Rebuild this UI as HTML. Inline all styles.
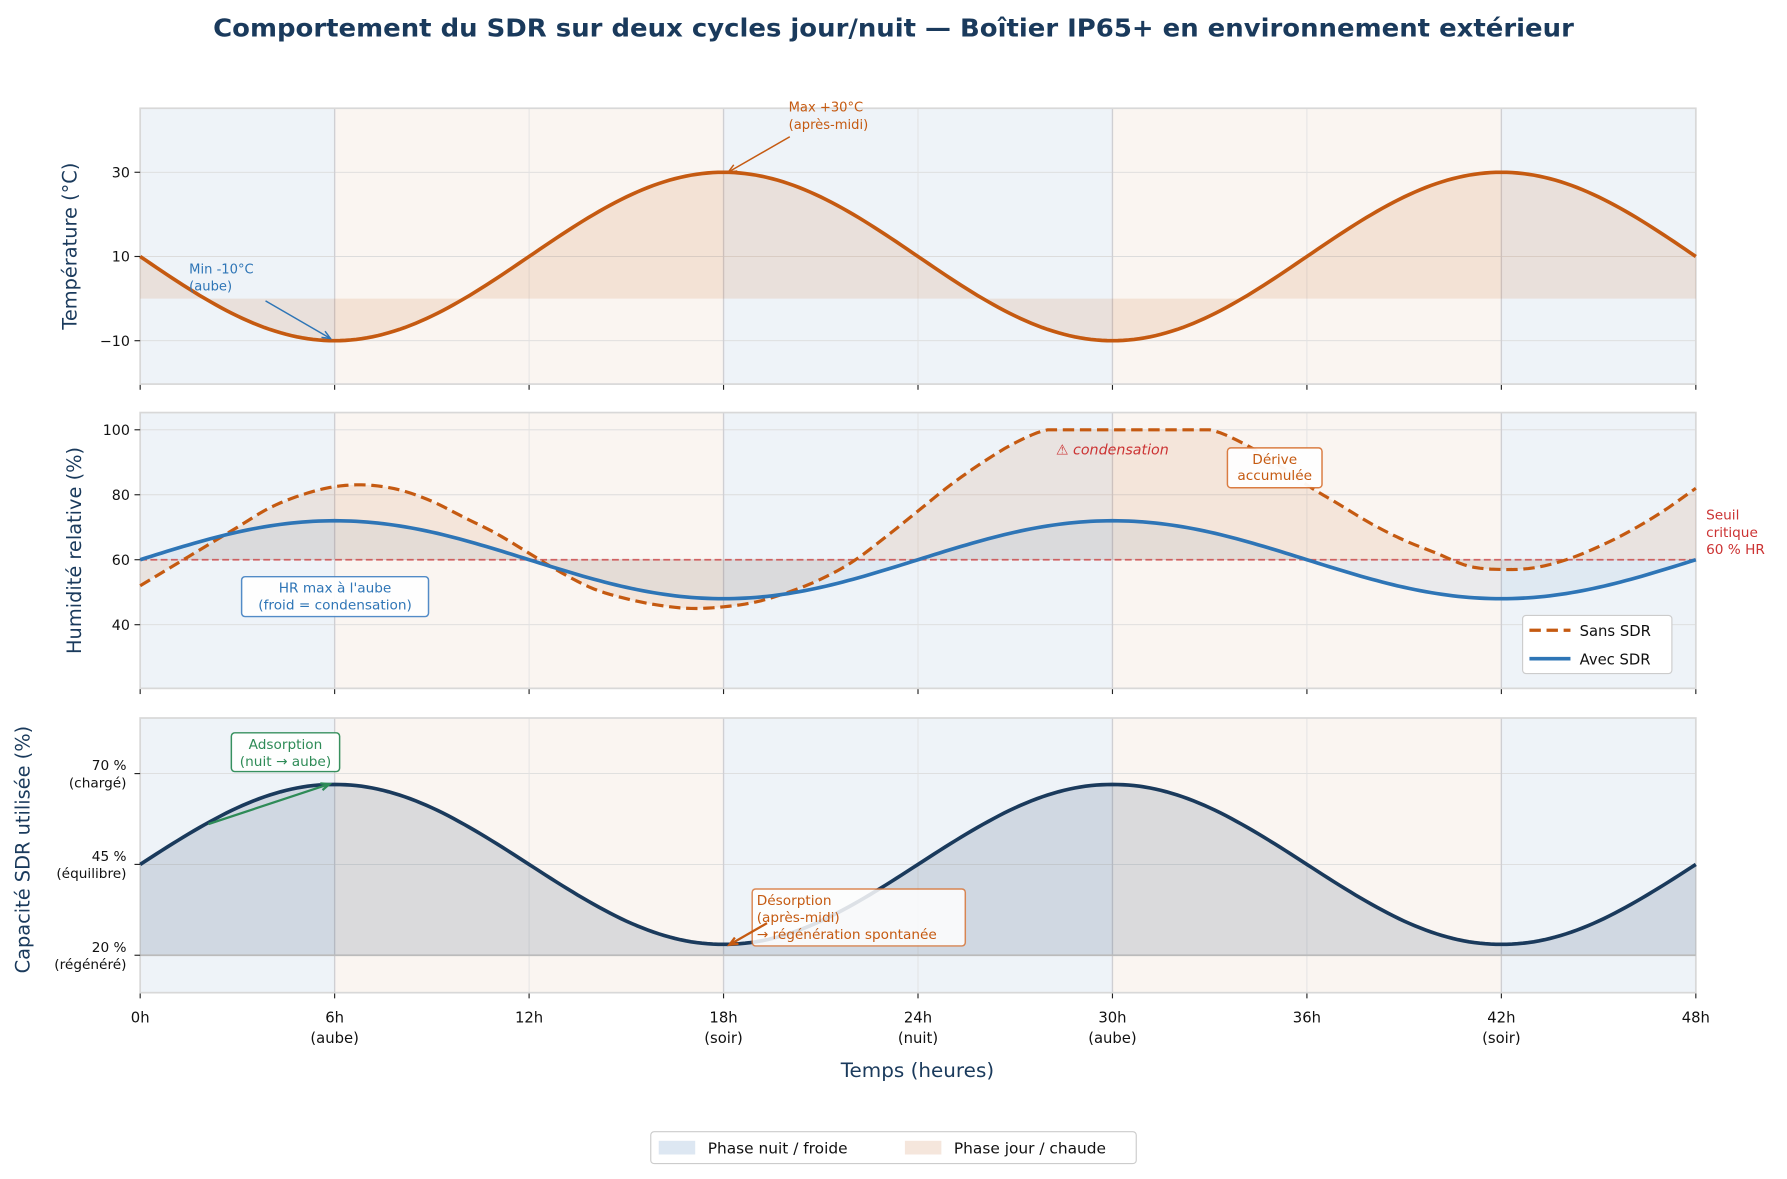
<!DOCTYPE html>
<html><head><meta charset="utf-8">
<style>
html,body{margin:0;padding:0;background:#fff;}
svg{display:block;font-family:"DejaVu Sans","Liberation Sans",sans-serif;}
</style></head>
<body>
<svg id="chart" width="1787" height="1179" viewBox="0 0 1568 1034.5" preserveAspectRatio="none" xmlns="http://www.w3.org/2000/svg">
<text x="784" y="32" text-anchor="middle" font-size="21.5" font-weight="bold" fill="#1a3a5c" textLength="1194" lengthAdjust="spacingAndGlyphs">Comportement du SDR sur deux cycles jour/nuit — Boîtier IP65+ en environnement extérieur</text>
<g id="layer"></g>
</svg>
<script>
const hours = [0,1,2,3,4,5,6,7,8,9,10,11,12,13,14,15,16,17,18,19,20,21,22,23,24,25,26,27,28,29,30,31,32,33,34,35,36,37,38,39,40,41,42,43,44,45,46,47,48];
const temperature = [10,4.82,0,-4.14,-7.32,-9.32,-10,-9.32,-7.32,-4.14,0,4.82,10,15.18,20,24.14,27.32,29.32,30,29.32,27.32,24.14,20,15.18,10,4.82,0,-4.14,-7.32,-9.32,-10,-9.32,-7.32,-4.14,0,4.82,10,15.18,20,24.14,27.32,29.32,30,29.32,27.32,24.14,20,15.18,10];
const hrSans = [52,58,64,70,76,80,82.5,83,81.5,78,73,68,62,56,51,48,46,45,45.5,47,50,54,59.5,67,75,83,90,96,100,100,100,100,100,100,96,90,83,77,71,66,62,58,57,57.5,60,64,69,75,82];
const hrAvec = [60,63.1,66,68.5,70.4,71.6,72,71.6,70.4,68.5,66,63.1,60,56.9,54,51.5,49.6,48.4,48,48.4,49.6,51.5,54,56.9,60,63.1,66,68.5,70.4,71.6,72,71.6,70.4,68.5,66,63.1,60,56.9,54,51.5,49.6,48.4,48,48.4,49.6,51.5,54,56.9,60];
const capacity = [45,50.7,56,60.6,64.1,66.3,67,66.3,64.1,60.6,56,50.7,45,39.3,34,29.4,25.9,23.7,23,23.7,25.9,29.4,34,39.3,45,50.7,56,60.6,64.1,66.3,67,66.3,64.1,60.6,56,50.7,45,39.3,34,29.4,25.9,23.7,23,23.7,25.9,29.4,34,39.3,45];
const phaseStarts = [0,6,18,30,42];
const phaseEnds = [6,18,30,42,48];
const phaseKinds = ['nuit','jour','nuit','jour','nuit'];
const xTicks = [0,6,12,18,24,30,36,42,48];
const xTickLabels = ['0h','6h\n(aube)','12h','18h\n(soir)','24h\n(nuit)','30h\n(aube)','36h','42h\n(soir)','48h'];
const tempTicks = [-10,10,30];
const hrTicks = [40,60,80,100];
const capTicks = [20,45,70];
const capTickLabels = ['20 %\n(régénéré)','45 %\n(équilibre)','70 %\n(chargé)'];

const NS='http://www.w3.org/2000/svg';
const layer=document.getElementById('layer');
function mk(tag,attrs,parent){const e=document.createElementNS(NS,tag);for(const k in attrs)e.setAttribute(k,attrs[k]);(parent||layer).appendChild(e);return e;}
const X0=123,X1=1488;
const xs=h=>X0+(h-0)/48*(X1-X0);
const panels=[
 {top:95,bot:337,min:-20.3,max:45.2},
 {top:362,bot:604,min:20.4,max:105.3},
 {top:630,bot:871,min:9.7,max:85.3}];
function ys(p,v){return p.bot-(v-p.min)/(p.max-p.min)*(p.bot-p.top);}
function smooth(vals,clampMax){
  const n=vals.length,pts=[];
  const g=i=>i<0?2*vals[0]-vals[1]:(i>=n?2*vals[n-1]-vals[n-2]:vals[i]);
  for(let i=0;i<n-1;i++){
    const p0=g(i-1),p1=g(i),p2=g(i+1),p3=g(i+2);
    for(let s=0;s<6;s++){const t=s/6;
      let v=0.5*((2*p1)+(-p0+p2)*t+(2*p0-5*p1+4*p2-p3)*t*t+(-p0+3*p1-3*p2+p3)*t*t*t);
      if(clampMax!==undefined)v=Math.min(v,clampMax);
      pts.push([hours[i]+(hours[i+1]-hours[i])*t,v]);}
  }
  let v=vals[n-1]; if(clampMax!==undefined)v=Math.min(v,clampMax);
  pts.push([hours[n-1],v]);return pts;
}
function linePath(p,pts){return pts.map((q,i)=>(i?'L':'M')+xs(q[0]).toFixed(2)+','+ys(p,q[1]).toFixed(2)).join('');}
function fillPath(p,pts,base){return linePath(p,pts)+'L'+xs(48)+','+ys(p,base)+'L'+xs(0)+','+ys(p,base)+'Z';}
function txt(x,y,s,attrs,parent){const lines=s.split('\n');const g=mk('text',Object.assign({x:x,y:y},attrs),parent);lines.forEach((l,i)=>{const t=mk('tspan',{x:x,dy:i?(attrs.lh||14):0},g);t.textContent=l;});return g;}
function arrow(x1,y1,x2,y2,color,w,name){
  const g=mk('g',{});
  
  
  mk('line',{x1,y1,x2,y2,stroke:color,'stroke-width':w},g);
  const a=Math.atan2(y2-y1,x2-x1),L=8;
  mk('path',{d:`M${x2-L*Math.cos(a-0.4)},${y2-L*Math.sin(a-0.4)}L${x2},${y2}L${x2-L*Math.cos(a+0.4)},${y2-L*Math.sin(a+0.4)}`,fill:'none',stroke:color,'stroke-width':w},g);
}

panels.forEach((p,pi)=>{
  const g=mk('g',{});
  
  
  p.g=g;
  phaseStarts.forEach((s,i)=>{
    const r=mk('rect',{x:xs(s),y:p.top,width:xs(phaseEnds[i])-xs(s),height:p.bot-p.top,fill:phaseKinds[i]==='nuit'?'#eef3f8':'#faf5f1'},g);
    
    
  });
  const ticks=[tempTicks,hrTicks,capTicks][pi];
  ticks.forEach(v=>{mk('line',{x1:X0,x2:X1,y1:ys(p,v),y2:ys(p,v),stroke:'#dcdcdc','stroke-width':0.8},g);});
  xTicks.forEach(h=>{const strong=phaseStarts.includes(h)&&h>0;mk('line',{x1:xs(h),x2:xs(h),y1:p.top,y2:p.bot,stroke:strong?'#cfcfd3':'#e2e2e2','stroke-width':strong?1.2:0.8},g);
    mk('line',{x1:xs(h),x2:xs(h),y1:p.bot,y2:p.bot+5,stroke:'#222','stroke-width':1},g);});
  mk('rect',{x:X0,y:p.top,width:X1-X0,height:p.bot-p.top,fill:'none',stroke:'#d8d8d8','stroke-width':1.5},g);
});

// Panel 1 temperature
{const p=panels[0];const pts=smooth(temperature);
 mk('path',{d:fillPath(p,pts,0),fill:'rgba(200,90,20,0.12)'},p.g);
 const l=mk('path',{d:linePath(p,pts),fill:'none',stroke:'#c55a11','stroke-width':3.2},p.g);
 
 tempTicks.forEach(v=>{mk('line',{x1:X0-5,x2:X0,y1:ys(p,v),y2:ys(p,v),stroke:'#222'},p.g);
   const t=mk('text',{x:X0-9,y:ys(p,v)+4.5,'text-anchor':'end','font-size':12.5,fill:'#111'},p.g);t.textContent=v<0?'−'+(-v):v;});
 const yl=mk('text',{x:0,y:0,transform:`translate(67,${(p.top+p.bot)/2}) rotate(-90)`,'text-anchor':'middle','font-size':17,fill:'#1a3a5c'},p.g);yl.textContent='Température (°C)';
 
 txt(166,240,'Min -10°C\n(aube)',{'font-size':11.5,fill:'#2e75b6',lh:15},p.g);
 arrow(233,264,290,297,'#2e75b6',1.3,'min-annotation-arrow');
 txt(692,98,'Max +30°C\n(après-midi)',{'font-size':11.5,fill:'#c55a11',lh:15},p.g);
 arrow(693,120,639,151,'#c55a11',1.3,'max-annotation-arrow');
}
// Panel 2 humidity
{const p=panels[1];const ps=smooth(hrSans,100),pa=smooth(hrAvec);
 mk('path',{d:fillPath(p,ps,60),fill:'rgba(200,90,20,0.10)'},p.g);
 mk('path',{d:fillPath(p,pa,60),fill:'rgba(46,117,182,0.08)'},p.g);
 const th=mk('line',{x1:X0,x2:X1,y1:ys(p,60),y2:ys(p,60),stroke:'#cc4444','stroke-width':1.6,'stroke-dasharray':'6,3',opacity:0.8},p.g);
 
 const l1=mk('path',{d:linePath(p,ps),fill:'none',stroke:'#c55a11','stroke-width':2.8,'stroke-dasharray':'10,5'},p.g);
 
 const l2=mk('path',{d:linePath(p,pa),fill:'none',stroke:'#2e75b6','stroke-width':3.2},p.g);
 
 hrTicks.forEach(v=>{mk('line',{x1:X0-5,x2:X0,y1:ys(p,v),y2:ys(p,v),stroke:'#222'},p.g);
   const t=mk('text',{x:X0-9,y:ys(p,v)+4.5,'text-anchor':'end','font-size':12.5,fill:'#111'},p.g);t.textContent=v;});
 const yl=mk('text',{x:0,y:0,transform:`translate(71,${(p.top+p.bot)/2}) rotate(-90)`,'text-anchor':'middle','font-size':17,fill:'#1a3a5c'},p.g);yl.textContent='Humidité relative (%)';
 
 const c=mk('text',{x:976,y:399,'text-anchor':'middle','font-size':12.5,'font-style':'italic',fill:'#cc3333'},p.g);c.textContent='⚠ condensation';
 mk('rect',{x:1077,y:393,width:83,height:35,rx:3,fill:'#fff',stroke:'#d9773a','stroke-width':1.3,opacity:0.95},p.g);
 txt(1118.5,407,'Dérive\naccumulée',{'font-size':12,fill:'#c55a11','text-anchor':'middle',lh:14},p.g);
 mk('rect',{x:212,y:506,width:164,height:35,rx:3,fill:'#fff',stroke:'#4a86c5','stroke-width':1.3,opacity:0.95},p.g);
 txt(294,520,"HR max à l'aube\n(froid = condensation)",{'font-size':12,fill:'#2e75b6','text-anchor':'middle',lh:15},p.g);
 txt(1497,456,'Seuil\ncritique\n60 % HR',{'font-size':12,fill:'#cc3333',lh:15},p.g);
 const lg=mk('g',{},p.g);
 mk('rect',{x:1336,y:540,width:131,height:51,rx:3,fill:'#fff',stroke:'#ccc','stroke-width':1},lg);
 mk('line',{x1:1342,x2:1378,y1:553,y2:553,stroke:'#c55a11','stroke-width':2.8,'stroke-dasharray':'10,5'},lg);
 mk('line',{x1:1342,x2:1378,y1:578,y2:578,stroke:'#2e75b6','stroke-width':3.2},lg);
 let t=mk('text',{x:1386,y:558,'font-size':13,fill:'#111'},lg);t.textContent='Sans SDR';
 t=mk('text',{x:1386,y:583,'font-size':13,fill:'#111'},lg);t.textContent='Avec SDR';
}
// Panel 3 capacity
{const p=panels[2];const pts=smooth(capacity);
 mk('path',{d:fillPath(p,pts,20),fill:'rgba(26,58,92,0.14)'},p.g);
 mk('line',{x1:X0,x2:X1,y1:ys(p,20),y2:ys(p,20),stroke:'#bbb','stroke-width':1.5},p.g);
 const l=mk('path',{d:linePath(p,pts),fill:'none',stroke:'#1a3a5c','stroke-width':3.2},p.g);
 
 capTicks.forEach((v,i)=>{mk('line',{x1:X0-5,x2:X0,y1:ys(p,v),y2:ys(p,v),stroke:'#222'},p.g);
   txt(X0-12,ys(p,v)-3,capTickLabels[i],{'font-size':12,fill:'#111','text-anchor':'end',lh:15},p.g);});
 const yl=mk('text',{x:0,y:0,transform:`translate(26,${(p.top+p.bot)/2-5}) rotate(-90)`,'text-anchor':'middle','font-size':17,fill:'#1a3a5c'},p.g);yl.textContent='Capacité SDR utilisée (%)';
 
 mk('rect',{x:203,y:643,width:95,height:34,rx:3,fill:'#fff',stroke:'#2e8b57','stroke-width':1.3,opacity:0.95},p.g);
 txt(250.5,657,'Adsorption\n(nuit → aube)',{'font-size':12,fill:'#2e8b57','text-anchor':'middle',lh:15},p.g);
 arrow(183,723,289,688,'#2e8b57',2,'adsorption-arrow');
 mk('rect',{x:660,y:780,width:187,height:50,rx:3,fill:'#fff',stroke:'#d9773a','stroke-width':1.3,opacity:0.85},p.g);
 txt(664,794,'Désorption\n(après-midi)\n→ régénération spontanée',{'font-size':12,fill:'#c55a11',lh:15},p.g);
 arrow(673,810,640,829,'#c55a11',2,'desorption-arrow');
 xTicks.forEach((h,i)=>{txt(xs(h),897,xTickLabels[i],{'font-size':13,fill:'#111','text-anchor':'middle',lh:18},p.g);});
}
const xl=mk('text',{x:805,y:945,'text-anchor':'middle','font-size':17.5,fill:'#1a3a5c'});xl.textContent='Temps (heures)';

const bl=mk('g',{});
mk('rect',{x:571,y:993,width:426,height:28,rx:3,fill:'#fff',stroke:'#ccc'},bl);
mk('rect',{x:578,y:1001,width:32,height:12,fill:'#dde7f2'},bl);
let t=mk('text',{x:621,y:1012,'font-size':13.5,fill:'#111'},bl);t.textContent='Phase nuit / froide';
mk('rect',{x:794,y:1001,width:32,height:12,fill:'#f5e6dc'},bl);
t=mk('text',{x:837,y:1012,'font-size':13.5,fill:'#111'},bl);t.textContent='Phase jour / chaude';
</script>
</body></html>
